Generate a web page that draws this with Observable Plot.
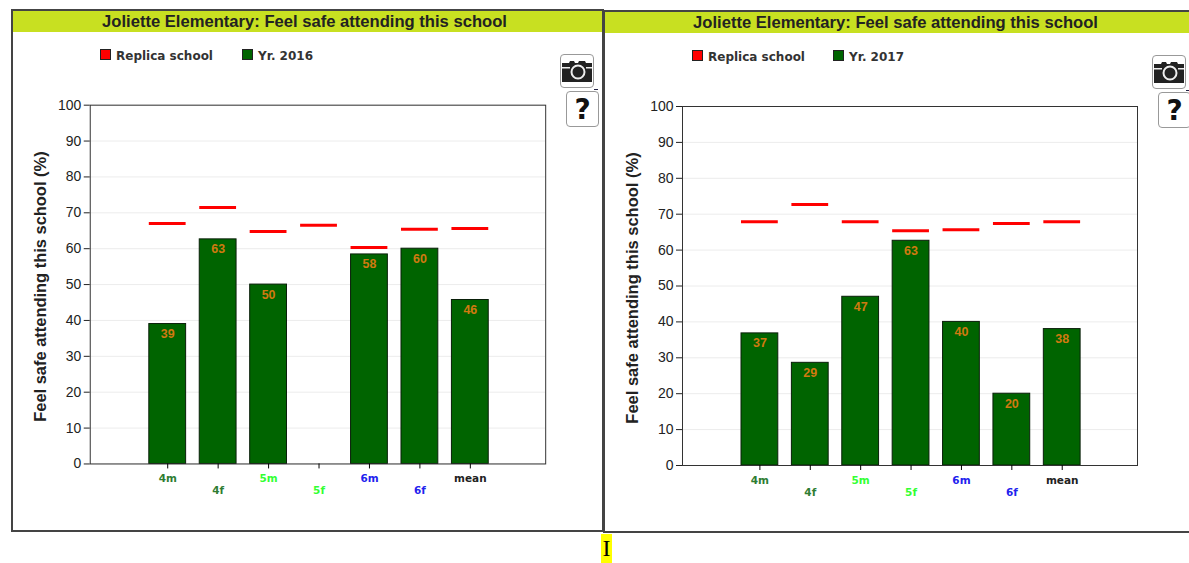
<!DOCTYPE html>
<html>
<head>
<meta charset="utf-8">
<script src="https://cdn.jsdelivr.net/npm/d3@7"></script>
<script src="https://cdn.jsdelivr.net/npm/@observablehq/plot@0.6"></script>
<style>
html,body{margin:0;padding:0;background:#fff;overflow:hidden;width:1189px;height:563px;}
body{position:relative;font-family:"Liberation Sans",Arial,sans-serif;}
.panel{position:absolute;box-sizing:border-box;background:#fff;border:2px solid #444;}
.band{position:absolute;left:0;right:0;top:0;height:21px;background:#c8e021;color:#222;font:bold 16.6px/21px "Liberation Sans",sans-serif;text-align:center;}
.legend{position:absolute;top:38px;font:bold 12px/14px "DejaVu Sans",sans-serif;color:#333;white-space:nowrap;}
.legend i{display:inline-block;width:9px;height:9px;border:1px solid #222;margin-right:5px;vertical-align:0;}
.plotbox{position:absolute;left:0;top:0;}
.btn{position:absolute;box-sizing:border-box;background:#fff;border:1px solid #999;border-radius:4px;text-align:center;}
.dash{position:absolute;width:4px;height:1px;background:#224;}
.cursor{position:absolute;left:601px;top:534px;width:11px;height:29px;background:#ff0;font:24px/29px "Liberation Serif",serif;color:#000;text-align:center;}
</style>
</head>
<body>
<script>
const categories = ["", "4m", "4f", "5m", "5f", "6m", "6f", "mean", " "];
const shown = ["4m", "4f", "5m", "5f", "6m", "6f", "mean"];
const grades = ["grade 4", "grade 4", "grade 5", "grade 5", "grade 6", "grade 6", "all"];
const gradeNames = ["grade 4", "grade 5", "grade 6", "all"];
const gradeColors = ["#2e7d32", "#33ff33", "#2222ee", "#222222"];
const yTicks = [0, 10, 20, 30, 40, 50, 60, 70, 80, 90, 100];

const bars2016 = [39, 62.6, 50, null, 58.4, 60, 45.7];
const labels2016 = ["39", "63", "50", "", "58", "60", "46"];
const replica2016 = [67, 71.5, 64.8, 66.5, 60.3, 65.4, 65.6];

const bars2017 = [36.8, 28.6, 47, 62.6, 40, 20, 38];
const labels2017 = ["37", "29", "47", "63", "40", "20", "38"];
const replica2017 = [67.9, 72.7, 67.9, 65.4, 65.7, 67.4, 67.9];

const titleText = "Joliette Elementary: Feel safe attending this school";
const axisLabel = "Feel safe attending this school (%)";

function panel({left, top, w, h, year, bars, labels, replica, legendX, legendGap, cam, mr, mb, bandPad}) {
  const el = document.createElement("div");
  el.className = "panel";
  el.style.cssText = `left:${left}px;top:${top}px;width:${w}px;height:${h}px`;
  document.body.appendChild(el);

  const rows = shown.map((c, i) => ({c, v: bars[i], l: labels[i], r: replica[i], g: grades[i], low: i % 2 === 1}));
  const chart = Plot.plot({
    width: 591, height: 520,
    marginLeft: 77, marginRight: mr, marginTop: 94, marginBottom: mb,
    style: {background: "transparent", overflow: "visible"},
    x: {type: "band", domain: categories, paddingInner: 0.27, paddingOuter: 0.15, align: 0.57, round: false, axis: null},
    y: {type: "linear", domain: [0, 100], axis: null},
    color: {type: "ordinal", domain: gradeNames, range: gradeColors},
    marks: [
      Plot.gridY(yTicks, {stroke: "#ececec", strokeOpacity: 1}),
      Plot.barY(rows.filter(d => d.v != null), {x: "c", y: "v", fill: "#006400", stroke: "#0a1f0a", strokeWidth: 1}),
      Plot.tickY(rows, {x: "c", y: "r", stroke: "#f00", strokeWidth: 3}),
      Plot.text(rows.filter(d => d.l), {x: "c", y: "v", text: "l", dy: 10, fill: "#d07a10", fontWeight: "bold", fontSize: 12.5, fontFamily: "Liberation Sans, sans-serif"}),
      Plot.frame({stroke: "#333", strokeWidth: 1}),
      Plot.axisY(yTicks, {anchor: "left", tickSize: 6, tickPadding: 3, fontSize: 14, fontFamily: "Liberation Sans, sans-serif", label: null, color: "#222"}),
      Plot.axisX(shown, {anchor: "bottom", tickSize: 5, text: () => "", label: null}),
      Plot.text(rows, {x: "c", y: 0, text: "c", dy: 15, fill: "g", filter: d => !d.low, fontWeight: "bold", fontSize: 10.5, fontFamily: "DejaVu Sans, sans-serif"}),
      Plot.text(rows, {x: "c", y: 0, text: "c", dy: 27, fill: "g", filter: d => d.low, fontWeight: "bold", fontSize: 10.5, fontFamily: "DejaVu Sans, sans-serif"}),
      Plot.text([axisLabel], {frameAnchor: "left", textAnchor: "middle", dx: -50, dy: 2, rotate: -90, fontWeight: "bold", fontSize: 16.5, fontFamily: "Liberation Sans, sans-serif", fill: "#222"})
    ]
  });
  const box = document.createElement("div");
  box.className = "plotbox";
  box.appendChild(chart);
  el.appendChild(box);

  const band = document.createElement("div");
  band.className = "band";
  band.style.paddingRight = bandPad + "px";
  band.textContent = titleText;
  el.appendChild(band);

  const leg = document.createElement("div");
  leg.className = "legend";
  leg.style.left = legendX + "px";
  leg.innerHTML = `<i style="background:#f00"></i>Replica school<span style="display:inline-block;width:${legendGap}px"></span><i style="background:#006400"></i>Yr. ${year}`;
  el.appendChild(leg);

  const camBtn = document.createElement("div");
  camBtn.className = "btn";
  camBtn.style.cssText = `left:${cam}px;top:43px;width:34px;height:34px`;
  camBtn.innerHTML = `<svg width="32" height="32" viewBox="0 0 32 32"><path fill="#222" d="M1 8h7l1-2h4l1 2h3l1-2h6l1 2h6v19H1z"/><circle cx="17" cy="17" r="6.5" fill="#222" stroke="#eee" stroke-width="2"/><rect x="1" y="12" width="8" height="1.5" fill="#eee"/><rect x="25" y="12" width="6" height="1.5" fill="#eee"/></svg>`;
  el.appendChild(camBtn);

  const dash = document.createElement("div");
  dash.className = "dash";
  dash.style.cssText = `left:${cam + 34}px;top:78px`;
  el.appendChild(dash);

  const q = document.createElement("div");
  q.className = "btn";
  q.style.cssText = `left:${cam + 6}px;top:80px;width:33px;height:36px;font:bold 28px/35px "DejaVu Sans",sans-serif;color:#111`;
  q.textContent = "?";
  el.appendChild(q);
}

panel({left: 11, top: 9, w: 593, h: 523, year: 2016, bars: bars2016, labels: labels2016, replica: replica2016, legendX: 87, legendGap: 29, cam: 547, mr: 57, mb: 66, bandPad: 6});
panel({left: 603, top: 10, w: 600, h: 523, year: 2017, bars: bars2017, labels: labels2017, replica: replica2017, legendX: 87, legendGap: 28, cam: 547, mr: 59, mb: 67, bandPad: 15});

const cur = document.createElement("div");
cur.className = "cursor";
cur.textContent = "I";
document.body.appendChild(cur);
</script>
</body>
</html>
